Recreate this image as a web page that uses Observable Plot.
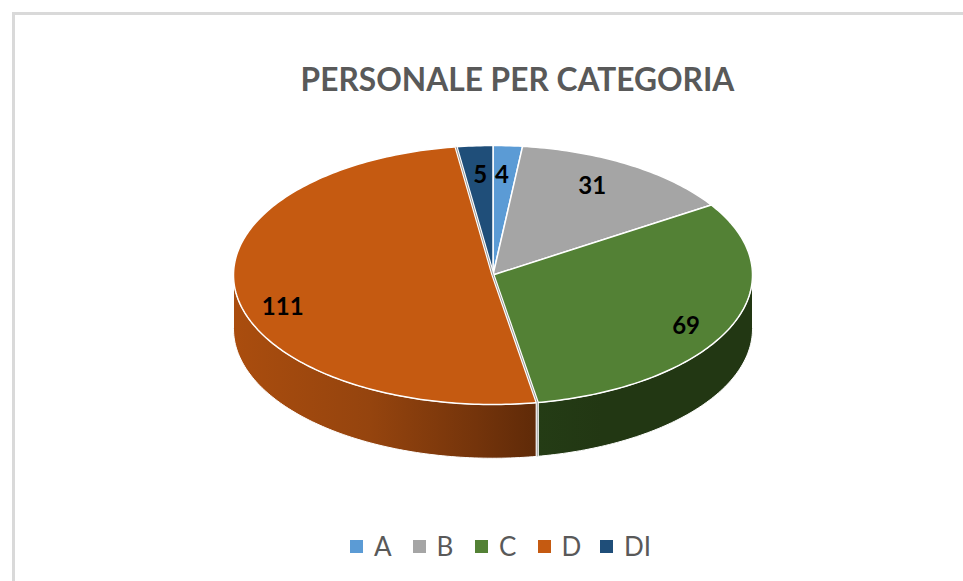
<!DOCTYPE html>
<html>
<head>
<meta charset="utf-8">
<script src="https://cdn.jsdelivr.net/npm/d3@7"></script>
<script src="https://cdn.jsdelivr.net/npm/@observablehq/plot@0.6"></script>
<style>
  html, body { margin: 0; padding: 0; background: #fff; }
  #page { position: relative; width: 963px; height: 581px; overflow: hidden; font-family: Lato, sans-serif; }
  #frame { position: absolute; left: 12px; top: 12px; width: 960px; height: 580px; border-left: 3px solid #d9d9d9; border-top: 3px solid #d9d9d9; }
  #title { position: absolute; left: 0; width: 1035px; top: 58px; text-align: center; font-size: 31.7px; line-height: 42px; font-weight: 700; color: #595959; margin: 0; }
  #chart { position: absolute; left: 0; top: 130px; }
  #chart svg { display: block; background: transparent; }
  #legend { position: absolute; left: 350px; top: 530px; display: flex; font-size: 26px; line-height: 32px; color: #595959; }
  #legend .item { display: flex; align-items: center; width: 62.5px; white-space: nowrap; }
  #legend .swatch { width: 13px; height: 13px; margin-right: 11px; flex: none; }
</style>
</head>
<body>
<div id="page">
  <div id="frame"></div>
  <h1 id="title"></h1>
  <div id="chart"></div>
  <div id="legend"></div>
</div>
<script>
const chartTitle = "PERSONALE PER CATEGORIA";
const categories = ["A", "B", "C", "D", "DI"];
const values = [4, 31, 69, 111, 5];
const colors = ["#5b9bd5", "#a5a5a5", "#538135", "#c55a11", "#1f4e79"];

// Geometry in unit-pie coordinates: the rim is x = sin(a), y = cos(a)
const depth = 0.415;
const total = d3.sum(values);
let running = 0;
const slices = categories.map((name, i) => {
  const start = running / total * 360;
  running += values[i];
  return { name, value: values[i], start, end: running / total * 360 };
});
const rad = (a) => a * Math.PI / 180;
const rim = (a, dy = 0) => ({ x: Math.sin(rad(a)), y: Math.cos(rad(a)) - dy });
const arc = (from, to, dy = 0) => {
  const n = Math.max(2, Math.ceil(Math.abs(to - from)));
  return d3.range(n + 1).map((k) => rim(from + (to - from) * k / n, dy));
};

// Top faces
const topRows = slices.flatMap((s) =>
  [{ x: 0, y: 0 }, ...arc(s.start, s.end)].map((p) => ({ ...p, name: s.name }))
);

// Visible front wall (rim angles 90 to 270 only)
const wall = (s) => {
  const from = Math.max(s.start, 90), to = Math.min(s.end, 270);
  return [...arc(from, to), ...arc(to, from, depth)];
};
const bySlice = Object.fromEntries(slices.map((s) => [s.name, s]));

// The largest slice is pulled out a hair: its edges show as a double line
const seams = [
  [{ x: 0, y: 0 }, rim(bySlice.D.start)].map((p) => ({ ...p, seam: "top-start" })),
  [{ x: 0, y: 0 }, rim(bySlice.D.end)].map((p) => ({ ...p, seam: "top-end" })),
  [rim(bySlice.D.start), rim(bySlice.D.start, depth)].map((p) => ({ ...p, seam: "wall" }))
].flat();

// Labels sit on a ring, then are nudged to where the picture has them
const nudge = { A: [-0.01, -0.01], B: [-0.03, 0.02], C: [0.03, -0.08], D: [-0.04, -0.13], DI: [0.006, -0.01] };
const labels = slices.map((s) => {
  const m = (s.start + s.end) / 2;
  return {
    name: s.name,
    value: s.value,
    x: 0.78 * Math.sin(rad(m)) + nudge[s.name][0],
    y: 0.78 * Math.cos(rad(m)) + nudge[s.name][1]
  };
});

const defs = () => {
  const d = d3.create("svg:defs");
  const grad = (id, stops) => {
    const g = d.append("linearGradient").attr("id", id).attr("x1", 0).attr("x2", 1).attr("y1", 0).attr("y2", 0);
    stops.forEach(([o, c]) => g.append("stop").attr("offset", o).attr("stop-color", c));
  };
  grad("wall-d", [[0, "#aa4d0e"], [0.45, "#95440e"], [0.8, "#74340b"], [1, "#5f2a08"]]);
  grad("wall-c", [[0, "#243c15"], [0.3, "#223713"], [1, "#223713"]]);
  return d.node();
};

const chart = Plot.plot({
  width: 963,
  height: 340,
  margin: 0,
  x: { domain: [-1, 1], range: [233, 752], axis: null },
  y: { domain: [1, -1], range: [15, 274], axis: null },
  color: { domain: categories, range: colors },
  marks: [
    defs,
    Plot.line(wall(bySlice.D), { x: "x", y: "y", curve: "linear-closed", fill: "url(#wall-d)", stroke: "#fff", strokeWidth: 1 }),
    Plot.line(wall(bySlice.C), { x: "x", y: "y", curve: "linear-closed", fill: "url(#wall-c)", stroke: "#fff", strokeWidth: 1 }),
    Plot.line(topRows, { x: "x", y: "y", z: "name", curve: "linear-closed", fill: "name", stroke: "#fff", strokeWidth: 1.5, strokeLinejoin: "round" }),
    Plot.line(seams, { x: "x", y: "y", z: "seam", stroke: "#fff", strokeWidth: 3.2, strokeLinecap: "butt" }),
    Plot.line(seams, { x: "x", y: "y", z: "seam", stroke: "#9a9a9a", strokeWidth: 1, strokeLinecap: "butt" }),
    Plot.text(labels, { x: "x", y: "y", text: "value", fill: "#000", fontSize: 24, fontWeight: 700, fontFamily: "Lato, sans-serif" })
  ]
});
document.getElementById("chart").appendChild(chart);
document.getElementById("title").textContent = chartTitle;

const legend = d3.select("#legend");
categories.forEach((c, i) => {
  const item = legend.append("div").attr("class", "item");
  item.append("span").attr("class", "swatch").style("background", colors[i]);
  item.append("span").text(c);
});
</script>
</body>
</html>
